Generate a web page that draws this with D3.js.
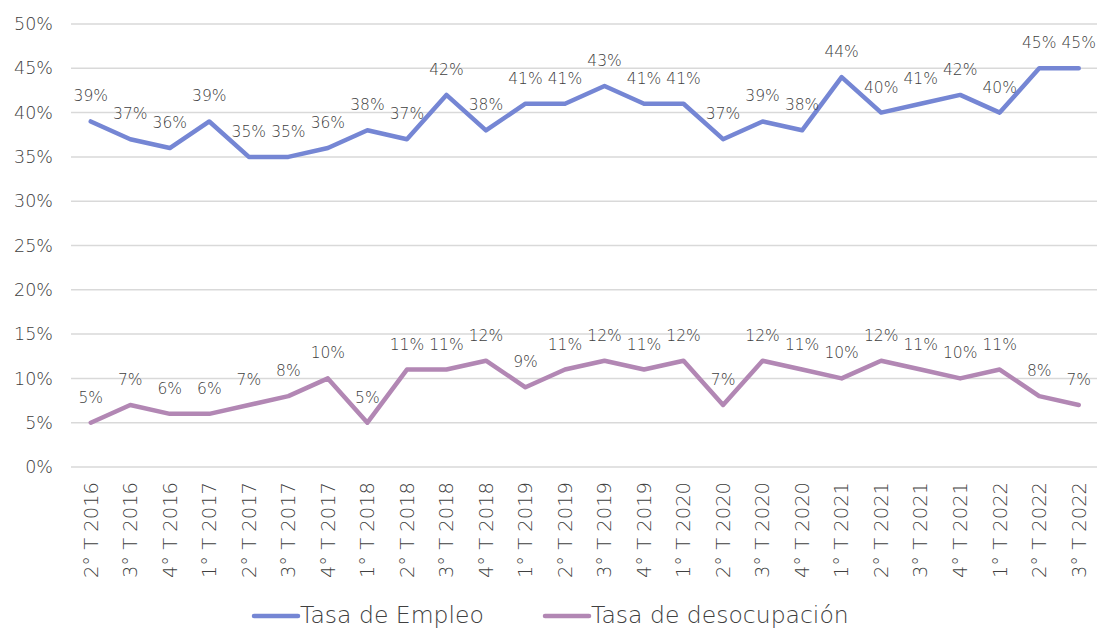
<!DOCTYPE html>
<html>
<head>
<meta charset="utf-8">
<script src="https://cdn.jsdelivr.net/npm/d3@7"></script>
<style>
  body { margin: 0; background: #fff; }
  svg { display: block; font-family: "DejaVu Sans", sans-serif; font-weight: 200; }
</style>
</head>
<body>
<svg id="chart" width="1097" height="630"></svg>
<script>
// quarters shown on the x axis
const quarters = ["2° T 2016", "3° T 2016", "4° T 2016", "1° T 2017", "2° T 2017", "3° T 2017",
  "4° T 2017", "1° T 2018", "2° T 2018", "3° T 2018", "4° T 2018", "1° T 2019", "2° T 2019",
  "3° T 2019", "4° T 2019", "1° T 2020", "2° T 2020", "3° T 2020", "4° T 2020", "1° T 2021",
  "2° T 2021", "3° T 2021", "4° T 2021", "1° T 2022", "2° T 2022", "3° T 2022"];

const empleo = [39, 37, 36, 39, 35, 35, 36, 38, 37, 42, 38, 41, 41, 43, 41, 41, 37, 39, 38, 44, 40, 41, 42, 40, 45, 45];
const desocupacion = [5, 7, 6, 6, 7, 8, 10, 5, 11, 11, 12, 9, 11, 12, 11, 12, 7, 12, 11, 10, 12, 11, 10, 11, 8, 7];

const yTicks = [0, 5, 10, 15, 20, 25, 30, 35, 40, 45, 50];

const seriesNames = ["Tasa de Empleo", "Tasa de desocupación"];
const seriesColors = ["#7586d4", "#b287b4"];

const svg = d3.select("#chart");
const textColor = "#404040";

const x = d3.scaleBand()
  .domain(quarters)
  .range([71, 1098.5]);

const y = d3.scaleLinear()
  .domain([0, 50])
  .range([467, 24]);

// gridlines
svg.append("g")
  .selectAll("line")
  .data(yTicks)
  .join("line")
  .attr("x1", 71)
  .attr("x2", 1097)
  .attr("y1", d => y(d))
  .attr("y2", d => y(d))
  .attr("stroke", "#d9d9d9")
  .attr("stroke-width", 1.5);

// y axis labels
const yAxis = d3.axisLeft(y)
  .tickValues(yTicks)
  .tickFormat(d => d + "%")
  .tickSize(0)
  .tickPadding(0);

svg.append("g")
  .attr("transform", "translate(53,0)")
  .call(yAxis)
  .call(g => g.select(".domain").remove())
  .call(g => g.selectAll("text")
    .attr("fill", textColor)
    .style("font-family", "DejaVu Sans")
    .style("font-weight", 200)
    .style("font-size", "17.5px"));

// x axis labels, rotated
const xAxis = d3.axisBottom(x).tickSize(0).tickPadding(0);
svg.append("g")
  .attr("transform", "translate(0,482)")
  .call(xAxis)
  .call(g => g.select(".domain").remove())
  .call(g => g.selectAll("text")
    .attr("fill", textColor)
    .style("font-family", "DejaVu Sans")
    .style("font-weight", 200)
    .style("font-size", "19.5px")
    .attr("text-anchor", "end")
    .attr("dy", "0.35em")
    .attr("y", 0)
    .attr("transform", "rotate(-90)"));

const line = d3.line()
  .x((d, i) => x(quarters[i]) + x.bandwidth() / 2)
  .y(d => y(d));

[empleo, desocupacion].forEach((vals, k) => {
  svg.append("path")
    .datum(vals)
    .attr("d", line)
    .attr("fill", "none")
    .attr("stroke", seriesColors[k])
    .attr("stroke-width", 4.5)
    .attr("stroke-linejoin", "round")
    .attr("stroke-linecap", "round");

  svg.append("g")
    .selectAll("text")
    .data(vals)
    .join("text")
    .attr("x", (d, i) => x(quarters[i]) + x.bandwidth() / 2)
    .attr("y", d => y(d) - 20)
    .attr("text-anchor", "middle")
    .attr("fill", textColor)
    .style("font-size", "15.5px")
    .text(d => d + "%");
});

// legend
const legendX = [254, 545];
const legend = svg.append("g");
seriesNames.forEach((name, k) => {
  legend.append("line")
    .attr("x1", legendX[k])
    .attr("x2", legendX[k] + 44)
    .attr("y1", 616)
    .attr("y2", 616)
    .attr("stroke", seriesColors[k])
    .attr("stroke-width", 4.5)
    .attr("stroke-linecap", "round");
  legend.append("text")
    .attr("x", legendX[k] + 46)
    .attr("y", 623)
    .attr("fill", textColor)
    .style("font-size", "23.5px")
    .text(name);
});
</script>
</body>
</html>
